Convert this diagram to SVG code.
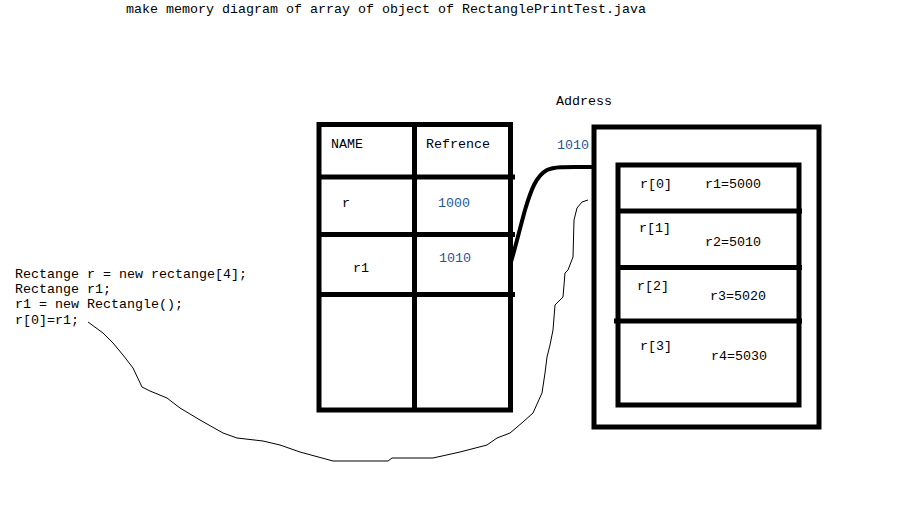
<svg xmlns="http://www.w3.org/2000/svg" width="921" height="526" viewBox="0 0 921 526">
<style>
text{font-family:"Liberation Mono","Courier New",monospace;font-size:13.33px;fill:#000}
.num{fill:#1f5799}
.thick{fill:none;stroke:#000;stroke-width:5}
.thin{fill:none;stroke:#000;stroke-width:1}
</style>
<rect width="921" height="526" fill="#fff"/>
<text x="126" y="13">make memory diagram of array of object of RectanglePrintTest.java</text>
<g id="code">
<text x="15" y="278">Rectange r = new rectange[4];</text>
<text x="15" y="293">Rectange r1;</text>
<text x="15" y="308">r1 = new Rectangle();</text>
<text x="15" y="324">r[0]=r1;</text>
</g>
<g id="table">
<rect class="thick" x="319" y="124.5" width="191.5" height="285.5"/>
<line class="thick" x1="414.5" y1="124.5" x2="414.5" y2="410"/>
<line class="thick" x1="319" y1="177" x2="515" y2="177"/>
<line class="thick" x1="319" y1="234.5" x2="515" y2="234.5"/>
<line class="thick" x1="319" y1="294.5" x2="515" y2="294.5"/>
<text x="331" y="148">NAME</text>
<text x="426" y="148">Refrence</text>
<text x="342" y="207">r</text>
<text class="num" x="438" y="207">1000</text>
<text x="353" y="272">r1</text>
<text class="num" x="439" y="262">1010</text>
</g>
<g id="heap">
<text x="556" y="105">Address</text>
<text class="num" x="557" y="149">1010</text>
<rect class="thick" x="594" y="127" width="225" height="300"/>
<rect class="thick" x="618" y="165" width="181" height="240"/>
<line class="thick" x1="618" y1="211" x2="802" y2="211"/>
<line class="thick" x1="618" y1="267.5" x2="802" y2="267.5"/>
<line class="thick" x1="614" y1="321" x2="802" y2="321"/>
<text x="640" y="188">r[0]</text>
<text x="705" y="188">r1=5000</text>
<text x="639" y="232">r[1]</text>
<text x="705" y="246">r2=5010</text>
<text x="637" y="290">r[2]</text>
<text x="710" y="300">r3=5020</text>
<text x="640" y="350">r[3]</text>
<text x="711" y="360">r4=5030</text>
</g>
<g id="connectors">
<path d="M511,262 C516,245 520,228 525,210 C531,190 536,176 547,170 C555,166 570,167 594,167" fill="none" stroke="#000" stroke-width="4"/>
<polyline class="thin" points="88,322 103,333 113,343 123,355 133,368 142,387 150,391 167,398 180,408 200,420 223,433 237,438 263,441 280,445 300,452 333,461 388,461 392,458 433,458 460,452 487,445 497,438 510,433 523,422 533,413 542,393 545,373 547,357 550,345 553,330 555,305 563,297 565,273 568,270 573,257 574,220 577,208 582,202 588,200"/>
</g>
</svg>
